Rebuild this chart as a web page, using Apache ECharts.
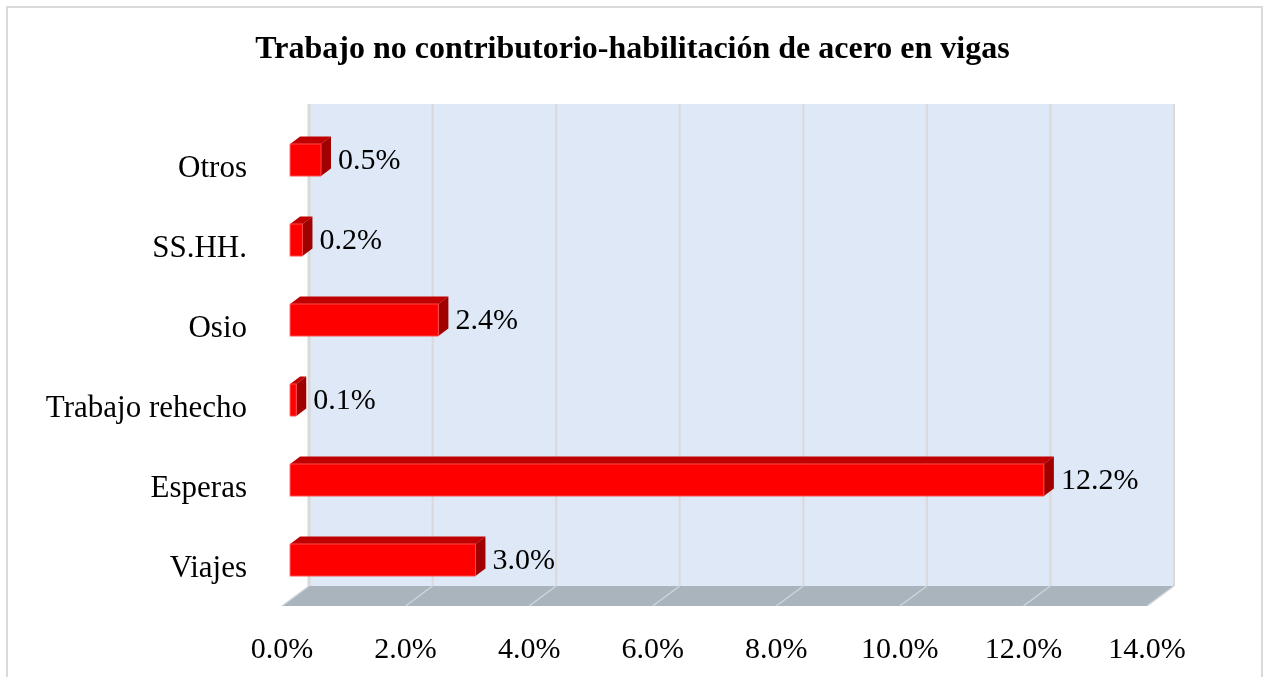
<!DOCTYPE html>
<html>
<head>
<meta charset="utf-8">
<title>Trabajo no contributorio</title>
<script src="https://cdn.jsdelivr.net/npm/echarts@6/dist/echarts.min.js"></script>
<style>
  html, body { margin: 0; padding: 0; background: #fff; }
  #main { width: 1265px; height: 677px; }
</style>
</head>
<body>
<div id="main"></div>
<script>
// datos del grafico (de abajo hacia arriba)
var categories = ['Viajes', 'Esperas', 'Trabajo rehecho', 'Osio', 'SS.HH.', 'Otros'];
var values = [3.0, 12.2, 0.1, 2.4, 0.2, 0.5];
var ticks = [0, 2, 4, 6, 8, 10, 12, 14];
var tickLabels = ['0.0%', '2.0%', '4.0%', '6.0%', '8.0%', '10.0%', '12.0%', '14.0%'];

var FONT = "'Liberation Serif', 'Times New Roman', serif";
var DX = 27, DY = -20; // profundidad del piso 3D

var chart = echarts.init(document.getElementById('main'));

//pared y piso
function renderWall(params, api) {
    var cs = params.coordSys;
    var L = cs.x, R = cs.x + cs.width, B = cs.y + cs.height, T = cs.y - 22;
    var kids = [];
    kids.push({
        type: 'polygon',
        shape: { points: [[L + DX, T], [R + DX, T], [R + DX, B + DY], [L + DX, B + DY]] },
        style: { fill: '#dee8f6' }
    });
    kids.push({
        type: 'polygon',
        shape: { points: [[L, B], [R, B], [R + DX, B + DY], [L + DX, B + DY]] },
        style: { fill: '#aab4bc' }
    });
    for (var i = 0; i < ticks.length; i++) {
        var x = api.coord([ticks[i], 0])[0];
        kids.push({
            type: 'line',
            shape: { x1: x + DX, y1: T, x2: x + DX, y2: B + DY },
            style: { stroke: '#d9d9d9', lineWidth: i === 0 ? 3 : 2 }
        });
        kids.push({
            type: 'line',
            shape: { x1: x + DX, y1: B + DY, x2: x, y2: B },
            style: { stroke: '#cfd5da', lineWidth: 1.5 }
        });
    }
    return { type: 'group', children: kids };
}

//barras 3D
function renderBar(params, api) {
    var cat = api.value(1);
    var v = api.value(0);
    var p0 = api.coord([0, cat]);
    var p1 = api.coord([v, cat]);
    var fx = 0.3 * DX, fy = 0.3 * DY;
    var dx = 10, dy = -7.5, h = 32;
    var x0 = p0[0] + fx, x1 = p1[0] + fx;
    var yc = p0[1] + fy;
    var y0 = yc - h / 2, y1 = yc + h / 2;
    return {
        type: 'group',
        children: [
            {
                type: 'polygon',
                shape: { points: [[x0, y0], [x1, y0], [x1 + dx, y0 + dy], [x0 + dx, y0 + dy]] },
                style: { fill: '#c00000' }
            },
            {
                type: 'polygon',
                shape: { points: [[x1, y0], [x1 + dx, y0 + dy], [x1 + dx, y1 + dy], [x1, y1]] },
                style: { fill: '#a00000' }
            },
            {
                type: 'rect',
                shape: { x: x0, y: y0, width: x1 - x0, height: h },
                style: { fill: '#ff0000', stroke: '#ff4a4a', lineWidth: 1 }
            },
            {
                type: 'text',
                style: {
                    x: x1 + dx + 7, y: yc + 1,
                    text: v.toFixed(1) + '%',
                    fill: '#000', font: '30px ' + FONT,
                    verticalAlign: 'middle', align: 'left'
                }
            }
        ]
    };
}

var barData = [];
for (var i = 0; i < values.length; i++) {
    barData.push([values[i], i]);
}

var option = {
    backgroundColor: '#fff',
    animation: false,
    title: {
        text: 'Trabajo no contributorio-habilitación de acero en vigas',
        left: 'center',
        top: 29,
        textStyle: { fontFamily: FONT, fontWeight: 'bold', fontSize: 32, color: '#000' }
    },
    graphic: [{
        type: 'rect',
        shape: { x: 7, y: 7, width: 1255, height: 700 },
        style: { fill: 'none', stroke: '#d9d9d9', lineWidth: 2 },
        silent: true
    }],
    grid: { left: 282, right: 118, top: 126, bottom: 71 },
    xAxis: {
        type: 'value', min: 0, max: 14, interval: 2,
        axisLine: { show: false }, axisTick: { show: false }, splitLine: { show: false },
        axisLabel: {
            margin: 29, color: '#000', fontFamily: FONT, fontSize: 30,
            formatter: function (v) { return tickLabels[Math.round(v / 2)]; }
        }
    },
    yAxis: {
        type: 'category', data: categories,
        axisLine: { show: false }, axisTick: { show: false },
        axisLabel: {
            margin: 35, color: '#000', fontFamily: FONT, fontSize: 31,
            verticalAlign: 'top', lineHeight: 6
        }
    },
    series: [
        { type: 'custom', z: 1, renderItem: renderWall, data: [[0, 0]], silent: true },
        { type: 'custom', z: 2, renderItem: renderBar, data: barData, encode: { x: 0, y: 1 } }
    ]
};
chart.setOption(option);
</script>
</body>
</html>
